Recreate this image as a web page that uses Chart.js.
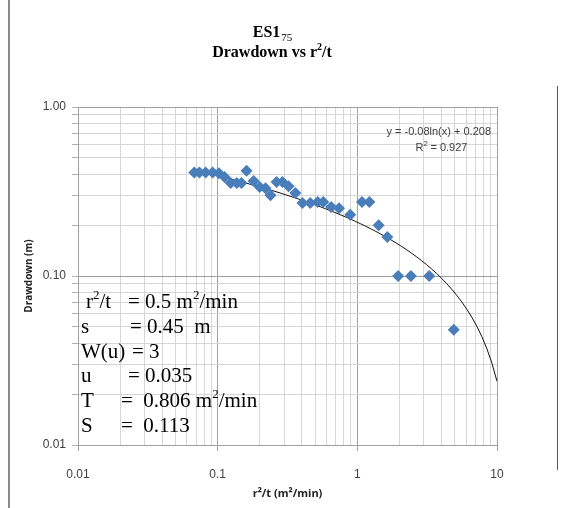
<!DOCTYPE html>
<html>
<head>
<meta charset="utf-8">
<script src="https://cdn.jsdelivr.net/npm/chart.js@4/dist/chart.umd.min.js"></script>
<style>
  body { margin: 0; background: #fff; }
  #wrap { width: 579px; height: 508px; position: relative; }
</style>
</head>
<body>
<div id="wrap"><canvas id="drawdownChart"></canvas></div>
<script>
// r2/t (m2/min) and drawdown (m)
const r2t = [0.068, 0.074, 0.082, 0.092, 0.102, 0.112, 0.124, 0.137, 0.148, 0.161,
  0.181, 0.20, 0.22, 0.239, 0.264, 0.291, 0.322, 0.36, 0.405, 0.46,
  0.52, 0.57, 0.65, 0.74, 0.89, 1.08, 1.22, 1.42, 1.64, 1.96,
  2.42, 3.27, 4.9];
const drawdown = [0.41, 0.41, 0.41, 0.41, 0.405, 0.385, 0.355, 0.355, 0.355, 0.42,
  0.365, 0.336, 0.33, 0.30, 0.36, 0.36, 0.34, 0.31, 0.27, 0.27,
  0.274, 0.274, 0.256, 0.252, 0.23, 0.274, 0.274, 0.20, 0.17, 0.10,
  0.10, 0.10, 0.048];

// logarithmic trendline shown on the chart: y = a*ln(x) + b
const trendA = -0.08;
const trendB = 0.208;
const trendStart = 0.068, trendEnd = 10;

const xTicks = [0.01, 0.02, 0.03, 0.04, 0.05, 0.06, 0.07, 0.08, 0.09,
  0.1, 0.2, 0.3, 0.4, 0.5, 0.6, 0.7, 0.8, 0.9,
  1, 2, 3, 4, 5, 6, 7, 8, 9, 10];
const xMajor = [0.01, 0.1, 1, 10];
const yTicks = [0.01, 0.02, 0.03, 0.04, 0.05, 0.06, 0.07, 0.08, 0.09,
  0.1, 0.2, 0.3, 0.4, 0.5, 0.6, 0.7, 0.8, 0.9, 1];
const yMajor = [0.01, 0.1, 1];

const infoLines = [
  ['r', '2', '/t', '= 0.5 m', '2', '/min'],
  ['s', '', '', '= 0.45  m', '', ''],
  ['W(u)', '', '', '= 3', '', ''],
  ['u', '', '', '= 0.035', '', ''],
  ['T', '', '', '=  0.806 m', '2', '/min'],
  ['S', '', '', '=  0.113', '', '']
];

const trendPts = [];
for (let i = 0; i <= 60; i++) {
  const x = trendStart * Math.pow(trendEnd / trendStart, i / 60);
  trendPts.push({ x: x, y: trendA * Math.log(x) + trendB });
}

const isMajor = (list, v) => list.some(m => Math.abs(Math.log10(m) - Math.log10(v)) < 1e-6);

const extras = {
  id: 'extras',
  beforeDraw(chart) {
    const c = chart.ctx;
    c.save();
    c.fillStyle = '#fff';
    c.fillRect(0, 0, chart.width, chart.height);
    c.strokeStyle = '#8a8a8a';
    c.lineWidth = 2;
    c.beginPath(); c.moveTo(9, 0); c.lineTo(9, 508); c.stroke();
    c.lineWidth = 1;
    c.strokeStyle = '#555';
    c.beginPath(); c.moveTo(557.5, 86); c.lineTo(557.5, 470); c.stroke();
    c.restore();
  },
  afterDraw(chart) {
    const c = chart.ctx;
    c.save();
    // title
    c.fillStyle = '#000';
    c.textBaseline = 'alphabetic';
    c.font = 'bold 16px "Liberation Serif"';
    const t1 = 'ES1', sub = '75';
    const w1 = c.measureText(t1).width;
    c.font = '11px "Liberation Serif"';
    const ws = c.measureText(sub).width;
    let x0 = 272 - (w1 + ws) / 2;
    c.font = 'bold 16px "Liberation Serif"';
    c.fillText(t1, x0, 37);
    c.font = '11px "Liberation Serif"';
    c.fillText(sub, x0 + w1 + 1, 41);
    c.font = 'bold 16px "Liberation Serif"';
    const a = 'Drawdown vs r', b = '/t';
    const wa = c.measureText(a).width, wb = c.measureText(b).width;
    c.font = 'bold 10px "Liberation Serif"';
    const w2 = c.measureText('2').width;
    x0 = 272 - (wa + w2 + wb) / 2;
    c.font = 'bold 16px "Liberation Serif"';
    c.fillText(a, x0, 57);
    c.fillText(b, x0 + wa + w2, 57);
    c.font = 'bold 10px "Liberation Serif"';
    c.fillText('2', x0 + wa, 50);

    // trendline equation
    c.fillStyle = '#404040';
    c.font = '11px "Liberation Sans"';
    c.textAlign = 'right';
    c.fillText('y = -0.08ln(x) + 0.208', 491, 135);
    c.textAlign = 'left';
    const rw = c.measureText('R  = 0.927').width;
    const rx = 441 - rw / 2;
    c.fillText('R', rx, 151);
    const rW = c.measureText('R').width;
    c.font = '8px "Liberation Sans"';
    c.fillText('2', rx + rW, 146);
    c.font = '11px "Liberation Sans"';
    c.fillText(' = 0.927', rx + rW + 4, 151);

    // parameter block
    c.fillStyle = '#000';
    const eqX = [128, 130, 132, 128, 121, 121];
    infoLines.forEach((ln, i) => {
      const y = 308 + i * 24.8;
      let x = i === 0 ? 86 : 81;
      c.font = '21px "Liberation Serif"';
      c.fillText(ln[0], x, y);
      x += c.measureText(ln[0]).width;
      if (ln[1]) {
        c.font = '13px "Liberation Serif"';
        c.fillText(ln[1], x, y - 9);
        x += c.measureText(ln[1]).width;
      }
      c.font = '21px "Liberation Serif"';
      if (ln[2]) c.fillText(ln[2], x, y);
      c.fillText(ln[3], eqX[i], y);
      x = eqX[i] + c.measureText(ln[3]).width;
      if (ln[4]) {
        c.font = '13px "Liberation Serif"';
        c.fillText(ln[4], x, y - 9);
        x += c.measureText(ln[4]).width;
        c.font = '21px "Liberation Serif"';
        c.fillText(ln[5], x, y);
      }
    });
    c.restore();
  }
};

new Chart(document.getElementById('drawdownChart'), {
  type: 'scatter',
  data: {
    datasets: [
      {
        label: 'Drawdown',
        data: r2t.map((x, i) => ({ x: x, y: drawdown[i] })),
        pointStyle: 'rectRot',
        pointRadius: 6,
        pointHoverRadius: 6,
        backgroundColor: '#4a7ebb',
        borderColor: '#4a7ebb',
        borderWidth: 0
      },
      {
        label: 'Log. trend',
        type: 'line',
        data: trendPts,
        borderColor: '#111',
        borderWidth: 1,
        pointRadius: 0,
        fill: false,
        tension: 0
      }
    ]
  },
  options: {
    responsive: true,
    maintainAspectRatio: false,
    animation: false,
    events: [],
    layout: { padding: { left: 0, top: 107, right: 82, bottom: 0 } },
    plugins: { legend: { display: false }, tooltip: { enabled: false } },
    scales: {
      x: {
        type: 'logarithmic',
        min: 0.01, max: 10,
        afterBuildTicks: s => { s.ticks = xTicks.map(v => ({ value: v })); },
        afterFit: s => { s.height = 63; },
        ticks: {
          autoSkip: false, maxRotation: 0, padding: 16,
          color: '#404040',
          font: { family: '"Liberation Sans"', size: 12 },
          callback: v => isMajor(xMajor, v) ? String(v) : ''
        },
        grid: {
          color: ctx => ctx.tick && isMajor(xMajor, ctx.tick.value) ? '#a0a0a0' : '#d6d6d6',
          tickLength: 6,
          tickColor: ctx => ctx.tick && isMajor(xMajor, ctx.tick.value) ? '#a0a0a0' : 'rgba(0,0,0,0)'
        },
        border: { color: '#a0a0a0' },
        title: {
          display: true,
          text: 'r²/t (m²/min)',
          color: '#222',
          font: { family: '"Open Sans", "Liberation Sans"', size: 11, weight: 'bold' },
          padding: { top: 0, bottom: 8 }
        }
      },
      y: {
        type: 'logarithmic',
        min: 0.01, max: 1,
        afterBuildTicks: s => { s.ticks = yTicks.map(v => ({ value: v })); },
        afterFit: s => { s.width = 78; },
        ticks: {
          autoSkip: false, padding: 6,
          color: '#404040',
          font: { family: '"Liberation Sans"', size: 12 },
          callback: v => isMajor(yMajor, v) ? v.toFixed(2) : ''
        },
        grid: {
          color: ctx => ctx.tick && isMajor(yMajor, ctx.tick.value) ? '#a0a0a0' : '#d6d6d6',
          tickLength: 6,
          tickColor: '#b0b0b0'
        },
        border: { color: '#a0a0a0' },
        title: {
          display: true,
          text: 'Drawdown (m)',
          color: '#222',
          font: { family: '"Open Sans", "Liberation Sans"', size: 10, weight: 'bold' },
          padding: { top: 23, bottom: 0 }
        }
      }
    }
  },
  plugins: [extras]
});
</script>
</body>
</html>
